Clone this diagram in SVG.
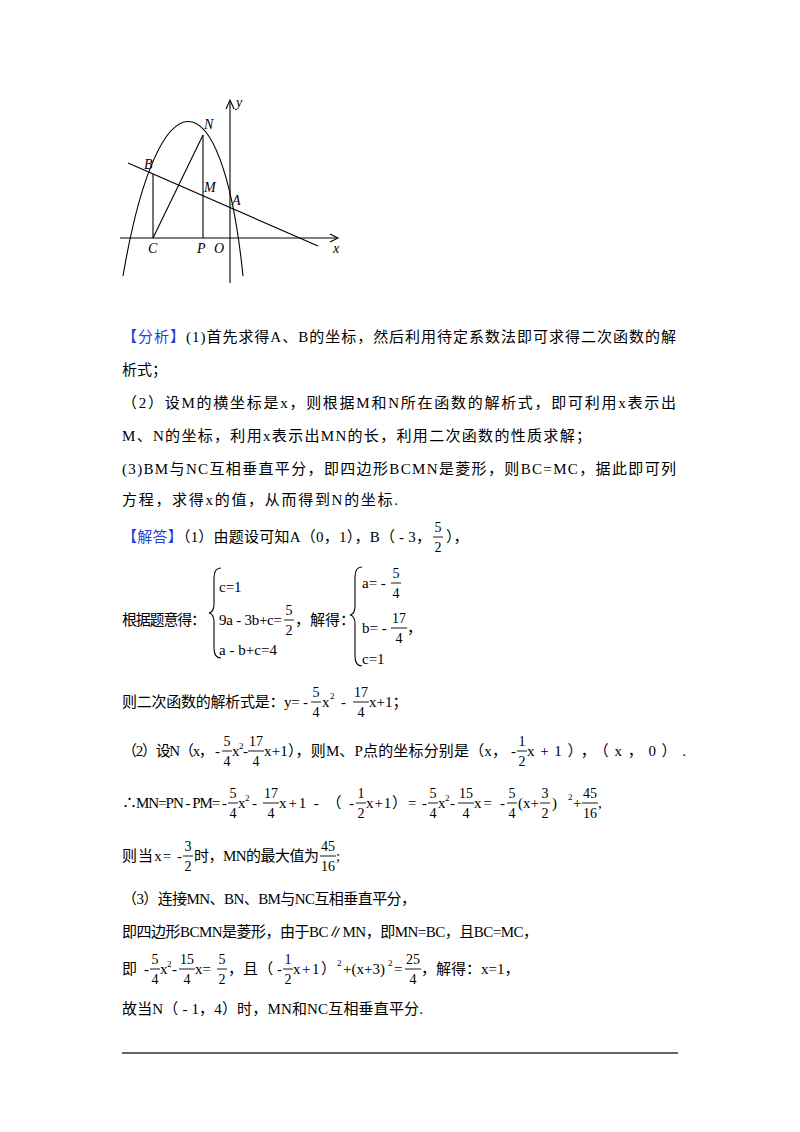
<svg xmlns="http://www.w3.org/2000/svg" width="800" height="1132" viewBox="0 0 800 1132">
<style>
.t{font-family:"Liberation Serif","Noto Sans CJK SC",serif;font-size:15px;fill:#000}
.f{font-family:"Liberation Serif","Noto Sans CJK SC",serif;font-size:14px;fill:#000;text-anchor:middle}
.s{font-family:"Liberation Serif",serif;font-size:9px;fill:#000}
.b{fill:#1f3fd6}
.lab{font-family:"Liberation Serif",serif;font-style:italic;font-size:14px;fill:#000}
.g{stroke:#000;stroke-width:1.1;fill:none}
.fb{stroke:#000;stroke-width:0.9}
</style>
<rect width="800" height="1132" fill="#fff"/>
<g id="graph">
<line class="g" x1="120" y1="238" x2="337" y2="238"/>
<path class="g" d="M330,234 L338,238 L330,242"/>
<line class="g" x1="230" y1="283" x2="230" y2="101"/>
<path class="g" d="M226,109 L230,100 L234,109"/>
<line class="g" x1="128" y1="163" x2="318" y2="246"/>
<path class="g" d="M123,276 C158,70 222,70 243,276"/>
<line class="g" x1="153" y1="174" x2="153" y2="238"/>
<line class="g" x1="203" y1="135" x2="203" y2="238"/>
<line class="g" x1="153" y1="238" x2="203" y2="135"/>
<text class="lab" x="144" y="169">B</text>
<text class="lab" x="204" y="129">N</text>
<text class="lab" x="204" y="192">M</text>
<text class="lab" x="232" y="205">A</text>
<text class="lab" x="148" y="253">C</text>
<text class="lab" x="197" y="253">P</text>
<text class="lab" x="214" y="253">O</text>
<text class="lab" x="333" y="253">x</text>
<text class="lab" x="236" y="107">y</text>
</g>
<g id="analysis">
<text class="t" x="122" y="342" textLength="554" lengthAdjust="spacing"><tspan class="b">【分析】</tspan>(1)首先求得A、B的坐标，然后利用待定系数法即可求得二次函数的解</text>
<text class="t" x="122" y="375">析式；</text>
<text class="t" x="122" y="408" textLength="554" lengthAdjust="spacing">（2）设M的横坐标是x，则根据M和N所在函数的解析式，即可利用x表示出</text>
<text class="t" x="122" y="441" textLength="469" lengthAdjust="spacing">M、N的坐标，利用x表示出MN的长，利用二次函数的性质求解；</text>
<text class="t" x="122" y="474" textLength="554" lengthAdjust="spacing">(3)BM与NC互相垂直平分，即四边形BCMN是菱形，则BC=MC，据此即可列</text>
<text class="t" x="122" y="505" textLength="276" lengthAdjust="spacing">方程，求得x的值，从而得到N的坐标.</text>
</g>
<g id="solution">
<text class="t" x="122" y="542" textLength="309" lengthAdjust="spacing"><tspan class="b">【解答】</tspan>（1）由题设可知A（0，1），B（ - 3，</text>
<text class="f" x="438" y="532">5</text><line class="fb" x1="433" x2="443" y1="537" y2="537"/><text class="f" x="438" y="552">2</text>
<text class="t" x="446" y="542">），</text>

<text class="t" x="122" y="625" textLength="84" lengthAdjust="spacing">根据题意得：</text>
<path class="g" d="M221,568 Q214,568 214,578 L214,604 Q214,612 209,613 Q214,614 214,622 L214,648 Q214,658 221,658"/>
<text class="t" x="219" y="592">c=1</text>
<text class="t" x="219" y="625" textLength="63" lengthAdjust="spacing">9a - 3b+c=</text>
<text class="f" x="289" y="615">5</text><line class="fb" x1="284" x2="294" y1="620" y2="620"/><text class="f" x="289" y="635">2</text>
<text class="t" x="295" y="625">，解得：</text>
<text class="t" x="219" y="655" textLength="58" lengthAdjust="spacing">a - b+c=4</text>
<path class="g" d="M362,567 Q355,567 355,577 L355,606 Q355,614 350,615 Q355,616 355,624 L355,656 Q355,666 362,666"/>
<text class="t" x="362" y="588">a= -</text>
<text class="f" x="396" y="578">5</text><line class="fb" x1="391" x2="401" y1="583" y2="583"/><text class="f" x="396" y="598">4</text>
<text class="t" x="362" y="633">b= -</text>
<text class="f" x="399" y="623">17</text><line class="fb" x1="391" x2="407" y1="628" y2="628"/><text class="f" x="399" y="643">4</text>
<text class="t" x="407" y="633">，</text>
<text class="t" x="362" y="664">c=1</text>

<text class="t" x="122" y="707" textLength="186" lengthAdjust="spacing">则二次函数的解析式是：y= -</text>
<text class="f" x="316" y="697">5</text><line class="fb" x1="311" x2="321" y1="702" y2="702"/><text class="f" x="316" y="717">4</text>
<text class="t" x="322" y="707">x</text><text class="s" x="330" y="699" font-size="11">2</text><text class="t" x="341" y="707">-</text>
<text class="f" x="361" y="697">17</text><line class="fb" x1="353" x2="369" y1="702" y2="702"/><text class="f" x="361" y="717">4</text>
<text class="t" x="369" y="707">x+1；</text>

<text class="t" x="122" y="756" textLength="98" lengthAdjust="spacing">（2）设N（x， -</text>
<text class="f" x="227" y="746">5</text><line class="fb" x1="222" x2="232" y1="751" y2="751"/><text class="f" x="227" y="766">4</text>
<text class="t" x="232" y="756">x</text><text class="s" x="239" y="749">2</text><text class="t" x="243" y="756">-</text>
<text class="f" x="256" y="746">17</text><line class="fb" x1="248" x2="264" y1="751" y2="751"/><text class="f" x="256" y="766">4</text>
<text class="t" x="264" y="756" textLength="252" lengthAdjust="spacing">x+1），则M、P点的坐标分别是（x， -</text>
<text class="f" x="522" y="746">1</text><line class="fb" x1="517" x2="527" y1="751" y2="751"/><text class="f" x="522" y="766">2</text>
<text class="t" x="527" y="756" textLength="159" lengthAdjust="spacing">x+1），（x，0）.</text>

<text class="t" x="122" y="808" textLength="105" lengthAdjust="spacing">∴MN=PN - PM= -</text>
<text class="f" x="233" y="798">5</text><line class="fb" x1="228" x2="238" y1="803" y2="803"/><text class="f" x="233" y="818">4</text>
<text class="t" x="238" y="808">x</text><text class="s" x="245" y="801">2</text><text class="t" x="252" y="808">-</text>
<text class="f" x="271" y="798">17</text><line class="fb" x1="263" x2="279" y1="803" y2="803"/><text class="f" x="271" y="818">4</text>
<text class="t" x="279" y="808" textLength="75" lengthAdjust="spacing">x+1 - （ -</text>
<text class="f" x="361" y="798">1</text><line class="fb" x1="356" x2="366" y1="803" y2="803"/><text class="f" x="361" y="818">2</text>
<text class="t" x="366" y="808" textLength="61" lengthAdjust="spacing">x+1）= -</text>
<text class="f" x="433" y="798">5</text><line class="fb" x1="428" x2="438" y1="803" y2="803"/><text class="f" x="433" y="818">4</text>
<text class="t" x="438" y="808">x</text><text class="s" x="445" y="801">2</text><text class="t" x="450" y="808">-</text>
<text class="f" x="466" y="798">15</text><line class="fb" x1="458" x2="474" y1="803" y2="803"/><text class="f" x="466" y="818">4</text>
<text class="t" x="474" y="808" textLength="31" lengthAdjust="spacing">x= -</text>
<text class="f" x="512" y="798">5</text><line class="fb" x1="507" x2="517" y1="803" y2="803"/><text class="f" x="512" y="818">4</text>
<text class="t" x="518" y="808">(x+</text>
<text class="f" x="545" y="798">3</text><line class="fb" x1="540" x2="550" y1="803" y2="803"/><text class="f" x="545" y="818">2</text>
<text class="t" x="552" y="808">)</text><text class="s" x="568" y="800">2</text><text class="t" x="573" y="808">+</text>
<text class="f" x="590" y="798">45</text><line class="fb" x1="582" x2="598" y1="803" y2="803"/><text class="f" x="590" y="818">16</text>
<text class="t" x="598" y="808">,</text>

<text class="t" x="122" y="861" textLength="60" lengthAdjust="spacing">则当x= -</text>
<text class="f" x="188" y="851">3</text><line class="fb" x1="183" x2="193" y1="856" y2="856"/><text class="f" x="188" y="871">2</text>
<text class="t" x="194" y="861" textLength="125" lengthAdjust="spacing">时，MN的最大值为</text>
<text class="f" x="328" y="851">45</text><line class="fb" x1="320" x2="336" y1="856" y2="856"/><text class="f" x="328" y="871">16</text>
<text class="t" x="336" y="861">;</text>

<text class="t" x="122" y="904" textLength="294" lengthAdjust="spacing">（3）连接MN、BN、BM与NC互相垂直平分，</text>
<text class="t" x="122" y="937" textLength="416" lengthAdjust="spacing">即四边形BCMN是菱形，由于BC∥MN，即MN=BC，且BC=MC，</text>
<text class="t" x="122" y="974" textLength="27" lengthAdjust="spacing">即 -</text>
<text class="f" x="155" y="964">5</text><line class="fb" x1="150" x2="160" y1="969" y2="969"/><text class="f" x="155" y="984">4</text>
<text class="t" x="160" y="974">x</text><text class="s" x="167" y="967">2</text><text class="t" x="172" y="974">-</text>
<text class="f" x="187" y="964">15</text><line class="fb" x1="179" x2="195" y1="969" y2="969"/><text class="f" x="187" y="984">4</text>
<text class="t" x="195" y="974">x=</text>
<text class="f" x="222" y="964">5</text><line class="fb" x1="217" x2="227" y1="969" y2="969"/><text class="f" x="222" y="984">2</text>
<text class="t" x="228" y="974" textLength="54" lengthAdjust="spacing">，且（ -</text>
<text class="f" x="288" y="964">1</text><line class="fb" x1="283" x2="293" y1="969" y2="969"/><text class="f" x="288" y="984">2</text>
<text class="t" x="293" y="974" textLength="43" lengthAdjust="spacing">x+1）</text><text class="s" x="337" y="966">2</text>
<text class="t" x="343" y="974">+(x+3)</text><text class="s" x="388" y="966">2</text><text class="t" x="394" y="974">=</text>
<text class="f" x="413" y="964">25</text><line class="fb" x1="405" x2="421" y1="969" y2="969"/><text class="f" x="413" y="984">4</text>
<text class="t" x="421" y="974">，解得：x=1，</text>
<text class="t" x="122" y="1014" textLength="301" lengthAdjust="spacing">故当N（ - 1，4）时，MN和NC互相垂直平分.</text>
<line x1="122" y1="1053" x2="678" y2="1053" stroke="#333" stroke-width="1.6"/>
</g>
</svg>
